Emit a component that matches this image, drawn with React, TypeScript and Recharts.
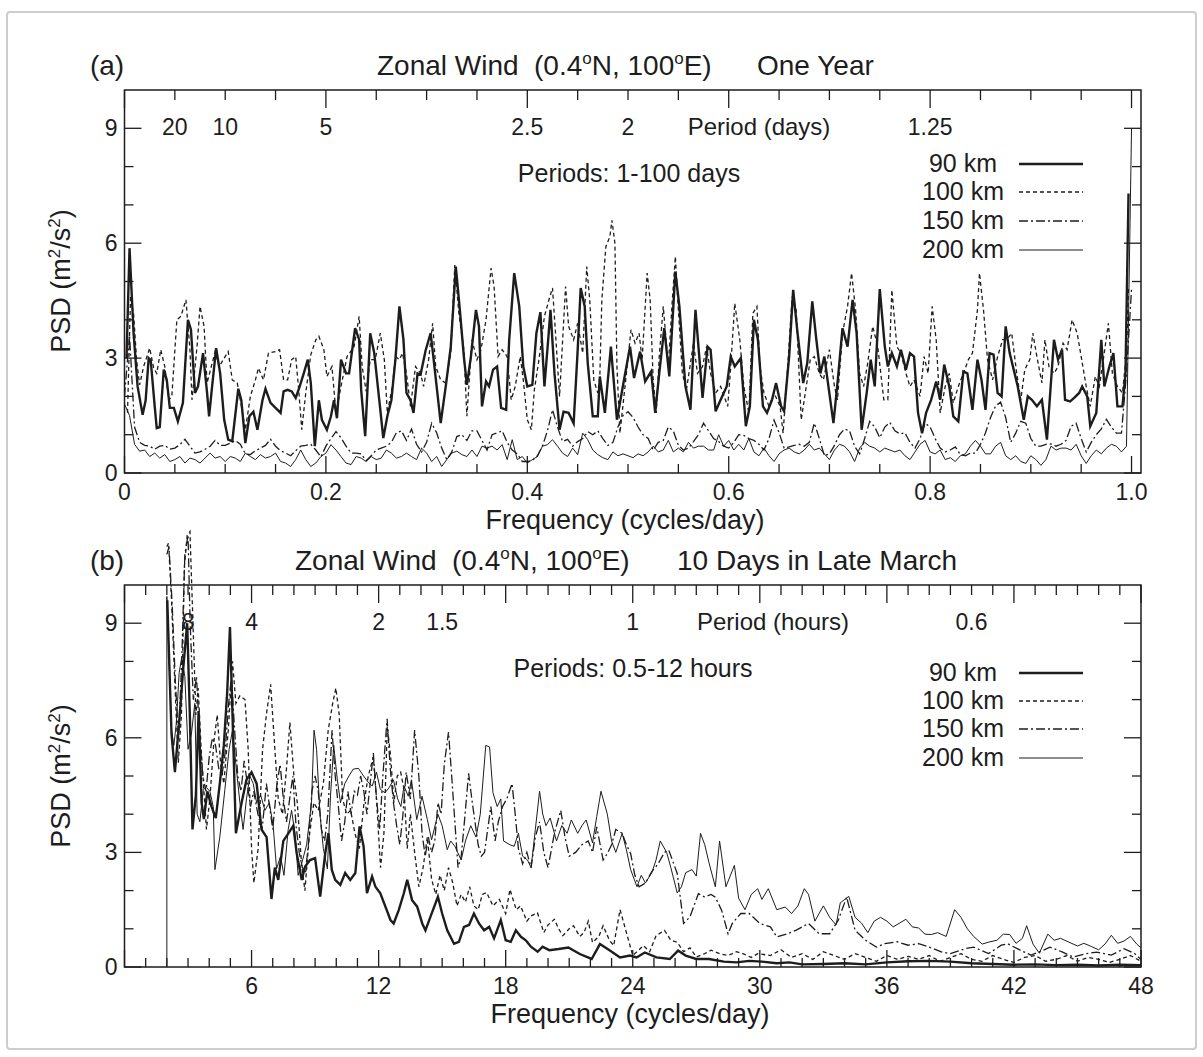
import React from 'react';
import { LineChart, Line, XAxis, YAxis, ReferenceArea } from 'recharts';

type Pt = [number, number];

const FONT = '"Liberation Sans", Arial, Helvetica, sans-serif';
const INK = '#1d1d1d';
const W = 1203;
const PLOT_L = 124.5;
const PLOT_R = 1141;

const seriesNames = ['90 km', '100 km', '150 km', '200 km'];
const seriesStyle = [
    { width: 2.4, dash: undefined as string | undefined },
    { width: 1.3, dash: '4 3' },
    { width: 1.3, dash: '9 3 2 3' },
    { width: 1, dash: undefined as string | undefined },
];

// ---- (a) one year, frequency in cycles/day ----
const A_STEP = 0.005;
const a90: Pt[] = [
    [0.002, 3.0], [0.005, 5.87], [0.009, 3.65], [0.013, 2.26], [0.018, 1.52], [0.021, 1.9], [0.024, 3.0], [0.026, 2.95], [0.03, 1.74], [0.032, 1.17],
    [0.035, 1.2], [0.039, 2.7], [0.042, 2.43], [0.045, 1.7], [0.049, 1.7], [0.053, 1.35], [0.058, 1.83], [0.063, 4.0], [0.066, 3.74], [0.07, 2.09],
    [0.073, 2.26], [0.078, 3.13], [0.082, 2.09], [0.084, 1.48], [0.087, 2.26], [0.091, 3.26], [0.095, 2.6], [0.099, 1.39], [0.103, 0.87], [0.107, 0.83],
    [0.113, 2.2], [0.116, 1.9], [0.12, 0.78], [0.124, 1.48], [0.128, 1.6], [0.132, 1.13], [0.137, 1.9], [0.14, 2.2], [0.145, 1.83], [0.15, 1.7],
    [0.155, 1.57], [0.158, 2.13], [0.162, 2.17], [0.166, 2.13], [0.17, 1.96], [0.174, 2.26], [0.178, 2.6], [0.182, 2.96], [0.185, 2.35], [0.189, 0.7],
    [0.193, 1.9], [0.196, 1.39], [0.201, 1.13], [0.205, 1.48], [0.208, 1.9], [0.211, 1.43], [0.215, 2.96], [0.22, 2.6], [0.223, 2.6], [0.229, 3.78],
    [0.233, 3.48], [0.235, 2.17], [0.239, 0.96], [0.244, 3.65], [0.248, 3.13], [0.253, 1.9], [0.257, 0.91], [0.261, 1.48], [0.265, 1.9], [0.269, 2.96],
    [0.273, 4.35], [0.277, 3.48], [0.28, 2.09], [0.284, 1.9], [0.287, 1.57], [0.291, 2.6], [0.294, 2.57], [0.299, 3.2], [0.304, 3.65], [0.307, 2.96],
    [0.314, 1.3], [0.319, 2.26], [0.324, 3.3], [0.329, 5.39], [0.333, 4.26], [0.337, 3.04], [0.34, 2.3], [0.344, 3.04], [0.349, 4.26], [0.352, 3.83],
    [0.355, 1.74], [0.359, 2.39], [0.362, 2.26], [0.366, 2.7], [0.37, 2.78], [0.374, 1.7], [0.379, 1.65], [0.382, 3.48], [0.387, 5.22], [0.392, 4.35],
    [0.396, 2.78], [0.4, 2.26], [0.405, 2.3], [0.409, 3.65], [0.413, 4.2], [0.417, 2.26], [0.421, 3.57], [0.423, 4.26], [0.427, 2.6], [0.432, 1.13],
    [0.436, 1.6], [0.441, 1.57], [0.446, 1.3], [0.45, 3.2], [0.453, 4.83], [0.457, 4.35], [0.46, 2.87], [0.465, 1.48], [0.47, 1.48],
    [0.472, 2.52], [0.477, 1.57], [0.483, 3.3], [0.489, 1.39], [0.496, 2.43], [0.502, 3.3], [0.506, 2.48], [0.512, 3.17], [0.517, 2.39], [0.523, 2.65],
    [0.527, 1.57], [0.531, 2.6], [0.536, 3.78], [0.541, 2.52], [0.547, 5.26], [0.551, 4.35], [0.557, 2.26], [0.562, 1.65], [0.567, 4.26], [0.571, 2.96],
    [0.574, 1.96], [0.579, 3.3], [0.582, 3.22], [0.587, 1.61], [0.592, 1.91], [0.598, 2.26], [0.602, 3.04], [0.606, 2.78], [0.612, 3.0], [0.617, 1.22],
    [0.621, 1.74], [0.625, 4.0], [0.629, 3.48], [0.634, 1.74], [0.638, 1.57], [0.643, 1.91], [0.647, 2.35], [0.652, 1.74], [0.655, 1.61], [0.66, 3.04],
    [0.664, 4.78], [0.668, 3.74], [0.674, 2.35], [0.678, 2.87], [0.683, 4.48], [0.687, 3.48], [0.691, 2.6], [0.695, 3.04], [0.699, 2.26], [0.704, 1.3],
    [0.708, 2.35], [0.713, 3.78], [0.718, 3.3], [0.723, 4.52], [0.727, 3.65], [0.732, 1.13], [0.737, 2.09], [0.741, 2.96], [0.745, 2.26], [0.75, 4.8],
    [0.755, 3.3], [0.758, 2.78], [0.762, 3.13], [0.767, 2.78], [0.771, 3.22], [0.776, 2.7], [0.78, 3.13], [0.784, 3.04], [0.788, 1.57], [0.792, 1.04],
    [0.796, 1.57], [0.801, 1.91], [0.806, 2.39], [0.81, 1.91], [0.814, 2.83], [0.819, 2.26], [0.823, 1.48], [0.828, 1.35], [0.833, 2.65], [0.837, 2.6],
    [0.842, 1.65], [0.847, 2.96], [0.851, 2.43], [0.855, 1.65], [0.859, 3.13], [0.863, 3.09], [0.867, 2.09], [0.871, 2.0], [0.875, 3.83], [0.879, 3.13],
    [0.883, 2.7], [0.887, 2.26], [0.893, 1.39], [0.897, 2.0], [0.901, 1.91], [0.906, 1.74], [0.911, 1.91], [0.916, 0.87], [0.919, 2.0], [0.923, 3.48],
    [0.927, 2.96], [0.931, 3.22], [0.934, 1.91], [0.939, 1.87], [0.943, 1.96], [0.948, 2.09], [0.951, 2.26], [0.956, 2.0], [0.959, 1.22], [0.965, 1.57],
    [0.97, 3.48], [0.973, 2.26], [0.978, 2.78], [0.982, 3.13], [0.986, 1.74], [0.991, 1.74], [0.994, 2.6], [0.997, 7.3],
];
const a100: Pt[] = [
    [0.003, 1.57], [0.006, 4.6], [0.009, 4.17], [0.012, 2.96], [0.015, 2.3], [0.019, 2.78], [0.025, 3.26], [0.029, 2.74], [0.032, 2.6], [0.036, 3.22],
    [0.04, 2.78], [0.044, 1.91], [0.047, 2.0], [0.052, 4.0], [0.056, 4.09], [0.061, 4.52], [0.065, 3.22], [0.067, 1.91], [0.072, 3.3], [0.075, 4.35],
    [0.079, 3.83], [0.082, 2.35], [0.09, 3.17], [0.094, 2.78], [0.103, 3.17], [0.107, 2.43], [0.112, 2.35], [0.115, 1.91], [0.12, 1.13], [0.125, 2.0],
    [0.13, 2.43], [0.133, 2.74], [0.138, 2.43], [0.143, 3.13], [0.15, 3.17], [0.154, 3.22], [0.158, 2.43], [0.162, 2.43], [0.166, 2.96], [0.17, 3.04],
    [0.173, 2.17], [0.176, 1.13], [0.18, 2.09], [0.185, 3.09], [0.19, 3.48], [0.193, 3.57], [0.198, 3.22], [0.201, 2.52], [0.206, 2.78], [0.21, 1.57],
    [0.215, 2.26], [0.221, 3.04], [0.228, 3.3], [0.233, 4.09], [0.236, 2.78], [0.24, 2.13], [0.244, 2.96], [0.249, 2.96], [0.254, 3.65], [0.258, 2.96],
    [0.261, 1.57], [0.266, 2.26], [0.269, 3.04], [0.273, 2.96], [0.276, 3.13], [0.28, 2.6], [0.284, 1.74], [0.289, 2.78], [0.294, 2.6], [0.297, 2.26],
    [0.302, 2.96], [0.306, 3.91], [0.309, 2.78], [0.314, 2.43], [0.319, 2.35], [0.324, 3.13], [0.328, 5.43], [0.332, 4.17], [0.337, 3.22], [0.34, 1.48],
    [0.345, 3.48], [0.35, 2.96], [0.354, 3.22], [0.359, 4.0], [0.364, 5.35], [0.367, 4.87], [0.371, 3.04], [0.375, 3.22], [0.38, 3.04], [0.384, 1.91],
    [0.388, 2.26], [0.393, 3.04], [0.396, 2.43], [0.4, 1.39], [0.404, 1.13], [0.407, 2.17], [0.412, 3.04], [0.417, 4.09], [0.422, 4.57], [0.425, 4.83],
    [0.428, 3.65], [0.432, 2.0], [0.438, 4.87], [0.441, 3.83], [0.446, 3.48], [0.45, 3.91], [0.455, 3.13], [0.459, 5.39], [0.462, 4.52], [0.466, 2.43],
    [0.47, 2.09], [0.472, 2.52], [0.474, 4.52], [0.478, 5.91], [0.482, 6.17], [0.484, 6.6], [0.487, 6.0], [0.489, 2.78], [0.492, 1.04], [0.497, 2.26],
    [0.503, 3.74], [0.507, 3.39], [0.511, 3.65], [0.514, 2.96], [0.519, 5.22], [0.522, 4.52], [0.525, 2.43], [0.528, 1.57], [0.531, 3.04], [0.535, 4.35],
    [0.54, 2.78], [0.544, 4.52], [0.547, 5.65], [0.55, 4.26], [0.554, 2.6], [0.558, 2.17], [0.565, 3.39], [0.569, 2.6], [0.574, 2.78], [0.578, 3.3],
    [0.582, 2.6], [0.587, 2.09], [0.592, 2.26], [0.599, 1.74], [0.602, 2.78], [0.606, 4.43], [0.611, 3.48], [0.615, 2.26], [0.62, 1.57], [0.624, 4.17],
    [0.628, 4.35], [0.631, 2.78], [0.635, 2.09], [0.64, 1.74], [0.645, 2.09], [0.651, 1.74], [0.654, 1.04], [0.659, 2.96], [0.663, 4.61], [0.667, 4.26],
    [0.672, 1.39], [0.677, 2.26], [0.681, 2.96], [0.685, 3.04], [0.69, 2.6], [0.694, 2.43], [0.7, 3.22], [0.705, 2.26], [0.708, 1.91], [0.713, 3.65],
    [0.718, 4.35], [0.722, 5.22], [0.726, 4.26], [0.73, 2.6], [0.734, 2.26], [0.738, 2.87], [0.743, 3.83], [0.748, 3.3], [0.754, 1.91], [0.758, 1.91],
    [0.762, 4.78], [0.767, 3.3], [0.771, 3.13], [0.776, 2.6], [0.78, 2.26], [0.784, 2.43], [0.79, 2.0], [0.794, 3.04], [0.798, 2.6], [0.802, 4.35],
    [0.806, 3.48], [0.81, 1.57], [0.815, 2.26], [0.819, 2.6], [0.823, 1.83], [0.828, 2.26], [0.833, 2.6], [0.838, 2.96], [0.842, 3.13], [0.847, 4.26],
    [0.849, 5.22], [0.853, 4.26], [0.857, 2.96], [0.862, 2.43], [0.867, 3.04], [0.872, 3.48], [0.876, 3.48], [0.881, 3.65], [0.886, 2.6], [0.89, 1.91],
    [0.894, 2.7], [0.899, 2.96], [0.902, 3.65], [0.906, 3.04], [0.911, 2.35], [0.914, 3.48], [0.918, 2.78], [0.923, 2.6], [0.927, 2.78], [0.932, 3.39],
    [0.936, 3.22], [0.941, 4.0], [0.946, 3.65], [0.95, 3.04], [0.955, 2.26], [0.959, 1.74], [0.964, 2.52], [0.968, 2.26], [0.972, 2.96], [0.977, 3.91],
    [0.981, 2.6], [0.986, 2.26], [0.991, 2.09], [0.995, 3.13], [0.997, 4.87],
];
// 150 km and 200 km read on a 0.005 cycles/day grid
const a150: number[] = [
    2.0, 3.6, 1.2, 0.8, 0.72, 0.7, 0.62, 0.7, 0.72, 0.62,
    0.65, 0.74, 0.88, 0.7, 0.52, 0.55, 0.62, 0.7, 0.85, 0.72,
    0.72, 0.78, 0.85, 0.75, 0.5, 0.48, 0.58, 0.65, 0.72, 0.88,
    0.7, 0.58, 0.52, 0.45, 0.58, 0.7, 0.72, 0.75, 0.6, 0.42,
    0.7, 0.9, 1.08, 0.92, 0.7, 0.52, 0.52, 0.5, 0.32, 0.45,
    0.6, 0.65, 0.7, 0.8, 1.05, 1.1, 0.85, 1.15, 0.75, 0.55,
    0.8, 1.3, 1.05, 0.65, 0.35, 0.55, 0.95, 1.0, 0.85, 1.1,
    1.1, 0.85, 0.6, 1.0, 1.05, 1.1, 0.8, 0.6, 0.5, 0.3,
    0.3, 0.33, 0.45, 0.7, 1.1, 1.65, 1.2, 0.82, 0.88, 0.7,
    0.82, 0.9, 1.08, 1.0, 1.1, 0.9, 0.72, 0.8, 1.2, 1.5,
    1.6, 1.45, 1.2, 1.0, 0.9, 0.6, 0.8, 0.85, 1.2, 1.1,
    0.72, 0.6, 0.65, 0.82, 1.0, 1.3, 1.1, 0.9, 0.82, 0.7,
    0.65, 0.8, 1.0, 0.98, 0.9, 0.85, 0.75, 0.6, 0.9, 1.38,
    1.05, 0.65, 0.68, 0.72, 0.75, 0.7, 0.8, 1.3, 0.9, 0.45,
    0.5, 0.72, 1.0, 1.15, 1.1, 0.7, 0.5, 0.9, 1.35, 1.2,
    0.92, 1.2, 1.32, 1.1, 1.02, 1.05, 0.8, 0.65, 0.9, 1.3,
    1.2, 0.9, 0.65, 0.55, 0.6, 0.68, 0.48, 0.45, 0.52, 0.52,
    0.75, 1.05, 1.45, 1.75, 1.85, 1.45, 0.8, 1.04, 1.35, 1.3,
    0.9, 0.7, 0.7, 0.75, 0.76, 0.7, 0.75, 0.85, 1.22, 1.3,
    0.9, 0.55, 0.8, 1.0, 1.15, 1.4, 1.2, 1.04, 1.04, 2.6,
    4.8,
];
const a200: number[] = [
    1.8, 1.5, 0.75, 0.57, 0.6, 0.43, 0.52, 0.39, 0.48, 0.3,
    0.35, 0.43, 0.26, 0.39, 0.35, 0.26, 0.39, 0.52, 0.39, 0.43,
    0.3, 0.43, 0.39, 0.3, 0.52, 0.43, 0.35, 0.48, 0.39, 0.43,
    0.52, 0.3, 0.26, 0.17, 0.35, 0.6, 0.35, 0.17, 0.26, 0.43,
    0.52, 0.74, 0.6, 0.43, 0.26, 0.22, 0.43, 0.39, 0.3, 0.43,
    0.35, 0.39, 0.6, 0.52, 0.39, 0.43, 0.52, 0.43, 0.35, 0.65,
    0.52, 0.3, 0.43, 0.17, 0.35, 0.52, 0.57, 0.48, 0.43, 0.6,
    0.43, 0.7, 0.65, 0.7, 0.6, 0.74, 0.35, 0.87, 0.35, 0.43,
    0.26, 0.35, 0.43, 0.7, 0.74, 0.87, 0.7, 0.52, 0.43, 0.65,
    0.48, 1.04, 0.87, 0.6, 0.48, 0.4, 0.35, 0.55, 0.45, 0.5,
    0.45, 0.4, 0.5, 0.45, 0.55, 0.7, 0.55, 0.6, 0.85, 0.55,
    0.65, 0.55, 0.8, 0.65, 0.7, 0.7, 0.6, 0.6, 1.0, 0.7,
    0.85, 0.6, 0.75, 0.6, 0.9, 0.55, 0.45, 0.65, 0.45, 0.3,
    0.5, 0.6, 0.65, 0.55, 0.5, 0.6, 0.75, 0.6, 0.65, 0.5,
    0.35, 0.6, 0.75, 0.7, 0.55, 0.3, 0.65, 0.8, 0.7, 0.65,
    0.55, 0.65, 0.6, 0.55, 0.6, 0.45, 0.35, 0.55, 0.75, 0.85,
    0.55, 0.5, 0.6, 0.35, 0.4, 0.3, 0.45, 0.5, 0.7, 0.85,
    0.7, 0.5, 0.5, 0.7, 0.8, 0.45, 0.35, 0.45, 0.3, 0.25,
    0.45, 0.35, 0.2, 0.35, 0.7, 0.6, 0.65, 0.65, 0.6, 0.75,
    0.45, 0.25, 0.45, 0.6, 0.5, 0.65, 0.75, 0.7, 0.55, 0.7,
    9.0,
];
const aMajor = [0, 0.2, 0.4, 0.6, 0.8, 1.0];
const aPeriodLabels: Record<string, string> = { '0.05': '20', '0.1': '10', '0.2': '5', '0.4': '2.5', '0.5': '2', '0.8': '1.25' };

// ---- (b) 10 days in late March, frequency in cycles/day ----
const b90: Pt[] = [
    [2.02, 9.6], [2.22, 6.1], [2.38, 5.1], [2.58, 6.4], [2.77, 7.8], [2.96, 9.0], [3.09, 6.5], [3.21, 3.6], [3.37, 4.5], [3.5, 6.7],
    [3.64, 4.3], [3.75, 3.87], [3.91, 4.6], [4.11, 4.2], [4.31, 3.9], [4.5, 4.8], [4.69, 5.8], [4.85, 7.2], [4.98, 8.9], [5.1, 6.6],
    [5.26, 3.5], [5.53, 4.3], [5.76, 4.9], [6.0, 5.1], [6.24, 4.8], [6.47, 3.6], [6.71, 3.4], [6.94, 1.78], [7.1, 2.6], [7.26, 2.28],
    [7.5, 3.3], [7.74, 3.5], [7.97, 3.7], [8.13, 2.98], [8.37, 2.28], [8.53, 2.63], [8.76, 2.8], [9.0, 2.85], [9.24, 1.84], [9.48, 2.98],
    [9.63, 3.5], [9.79, 2.54], [9.95, 2.28], [10.19, 2.15], [10.42, 2.46], [10.66, 2.28], [10.9, 2.46], [11.1, 3.68], [11.29, 3.16], [11.45, 1.93],
    [11.69, 2.37], [11.85, 2.1], [12.08, 1.93], [12.32, 1.58], [12.56, 1.23], [12.71, 1.14], [12.95, 1.49], [13.19, 1.93], [13.35, 2.28], [13.58, 1.75],
    [13.82, 1.58], [14.06, 1.14], [14.21, 0.96], [14.45, 1.32], [14.8, 1.84], [15.0, 1.4], [15.24, 0.96], [15.56, 0.61], [15.79, 0.66], [16.03, 1.05],
    [16.27, 1.1], [16.5, 1.4], [16.74, 1.14], [16.98, 0.96], [17.22, 1.05], [17.45, 0.75], [17.77, 1.23], [18.0, 0.7], [18.24, 0.66], [18.48, 0.96],
    [18.72, 0.79], [18.95, 0.7], [19.19, 0.53], [19.51, 0.4], [19.74, 0.53], [20.06, 0.44], [20.5, 0.47], [20.96, 0.51], [21.5, 0.34], [22.06, 0.21],
    [22.45, 0.6], [22.92, 0.43], [23.4, 0.25], [23.87, 0.3], [24.18, 0.25], [24.57, 0.38], [25.12, 0.25], [25.75, 0.21], [26.14, 0.43], [26.5, 0.3],
    [27.0, 0.21], [27.6, 0.21], [28.3, 0.14], [28.9, 0.12], [29.5, 0.16], [30.1, 0.14], [30.8, 0.1], [31.4, 0.12], [32.0, 0.07], [33, 0.08],
    [34, 0.1], [35, 0.07], [36, 0.12], [37, 0.15], [38, 0.16], [39, 0.14], [40, 0.1], [41, 0.08], [42, 0.06], [43, 0.07],
    [44, 0.05], [45, 0.06], [46, 0.04], [47, 0.06], [48, 0.05],
];
const b100: Pt[] = [
    [2.0, 11.0], [2.08, 11.1], [2.22, 9.6], [2.38, 7.4], [2.54, 5.35], [2.69, 6.6], [2.83, 10.5], [2.96, 11.3], [3.09, 11.4], [3.24, 8.9],
    [3.37, 6.6], [3.48, 7.3], [3.62, 5.7], [3.75, 4.6], [3.87, 3.6], [4.03, 4.4], [4.22, 5.9], [4.38, 6.6], [4.54, 5.3], [4.69, 4.8],
    [4.9, 6.2], [5.1, 8.0], [5.26, 6.9], [5.45, 7.1], [5.69, 7.0], [5.84, 5.7], [6.0, 3.1], [6.11, 2.2], [6.31, 3.1], [6.52, 5.7],
    [6.71, 6.65], [6.9, 7.4], [7.1, 5.7], [7.26, 4.4], [7.46, 4.0], [7.65, 5.2], [7.81, 6.4], [8.0, 5.0], [8.16, 4.3], [8.36, 2.7],
    [8.52, 2.0], [8.72, 3.4], [8.94, 4.3], [9.15, 4.1], [9.39, 4.8], [9.62, 6.2], [9.83, 6.9], [9.98, 7.3], [10.14, 6.6], [10.3, 4.4],
    [10.49, 4.0], [10.68, 4.1], [10.88, 3.5], [11.09, 3.1], [11.31, 4.3], [11.51, 5.0], [11.75, 5.5], [11.91, 4.3], [12.09, 2.6], [12.25, 3.5],
    [12.41, 6.3], [12.57, 5.5], [12.72, 4.3], [12.88, 5.0], [13.04, 5.1], [13.2, 4.65], [13.35, 3.1], [13.5, 4.0], [13.7, 3.0], [13.9, 2.1],
    [14.1, 2.6], [14.3, 3.4], [14.5, 2.3], [14.7, 1.9], [14.9, 2.4], [15.1, 2.0], [15.3, 2.6], [15.5, 2.2], [15.7, 1.6], [15.9, 1.9],
    [16.1, 1.7], [16.3, 2.1], [16.5, 1.6], [16.7, 1.5], [16.9, 1.9], [17.1, 1.95], [17.4, 1.6], [17.7, 1.77], [18.0, 1.4], [18.2, 2.03],
    [18.5, 1.5], [18.7, 1.6], [19.0, 1.2], [19.2, 1.34], [19.5, 1.42], [19.8, 0.9], [20.0, 1.1], [20.3, 1.25], [20.5, 1.0], [20.7, 0.82],
    [21.0, 1.0], [21.2, 1.08], [21.5, 0.8], [21.7, 0.9], [21.9, 1.2], [22.1, 0.64], [22.4, 0.8], [22.6, 1.08], [22.9, 0.7], [23.1, 0.56],
    [23.4, 1.5], [23.7, 0.9], [24.0, 0.3], [24.3, 0.45], [24.5, 0.56], [24.8, 0.4], [25.1, 0.82], [25.5, 0.96], [25.8, 0.7], [26.1, 0.65],
    [26.4, 0.4], [26.7, 0.5], [27.0, 0.26], [27.4, 0.35], [27.7, 0.44], [28.1, 0.35], [28.5, 0.3], [28.9, 0.4], [29.2, 0.35], [29.6, 0.25],
    [29.9, 0.35], [30.5, 0.3], [31.0, 0.45], [31.5, 0.25], [32.0, 0.35], [32.5, 0.2], [33.0, 0.4], [33.5, 0.3], [34.0, 0.2], [34.5, 0.35],
    [35.0, 0.25], [35.5, 0.15], [36.0, 0.3], [36.5, 0.2], [37.0, 0.28], [37.5, 0.2], [38.0, 0.3], [38.5, 0.15], [39.0, 0.25], [39.5, 0.35],
    [40.0, 0.2], [40.5, 0.15], [41.0, 0.3], [41.5, 0.2], [42.0, 0.12], [42.5, 0.25], [43.0, 0.3], [43.5, 0.15], [44.0, 0.2], [44.5, 0.3],
    [45.0, 0.15], [45.5, 0.25], [46.0, 0.2], [46.5, 0.12], [47.0, 0.2], [47.5, 0.3], [48.0, 0.15],
];
const b150: Pt[] = [
    [2.0, 10.8], [2.1, 11.0], [2.25, 9.5], [2.4, 7.5], [2.55, 6.0], [2.7, 8.0], [2.85, 10.8], [3.0, 11.3], [3.1, 9.0], [3.25, 7.0],
    [3.4, 7.6], [3.55, 6.0], [3.7, 5.0], [3.85, 4.6], [4.0, 5.5], [4.15, 6.0], [4.3, 5.8], [4.45, 5.2], [4.6, 5.0], [4.75, 5.6],
    [4.9, 6.8], [5.05, 7.6], [5.2, 6.2], [5.35, 5.0], [5.5, 4.6], [5.65, 5.4], [5.8, 4.8], [5.95, 4.2], [6.1, 4.6], [6.3, 4.0],
    [6.5, 3.6], [6.7, 4.8], [6.85, 4.2], [7.0, 3.6], [7.2, 4.8], [7.35, 5.3], [7.5, 4.4], [7.65, 3.8], [7.8, 4.4], [7.95, 5.0],
    [8.1, 3.7], [8.25, 3.0], [8.4, 2.6], [8.55, 2.5], [8.7, 3.3], [8.85, 4.6], [9.0, 5.0], [9.15, 4.6], [9.3, 3.6], [9.45, 3.3],
    [9.6, 4.0], [9.8, 6.2], [9.95, 5.0], [10.1, 4.2], [10.25, 3.3], [10.4, 3.8], [10.55, 4.6], [10.7, 4.0], [10.85, 4.6], [11.0, 4.5],
    [11.15, 5.0], [11.3, 4.6], [11.45, 4.0], [11.6, 4.8], [11.75, 5.6], [11.9, 4.4], [12.05, 3.6], [12.2, 5.0], [12.4, 6.5], [12.55, 5.2],
    [12.7, 4.3], [12.85, 3.7], [13.0, 3.2], [13.15, 4.0], [13.3, 5.1], [13.5, 4.4], [13.7, 6.2], [13.9, 5.0], [14.05, 3.5], [14.2, 2.9],
    [14.35, 3.4], [14.5, 3.0], [14.65, 3.3], [14.8, 4.3], [14.95, 4.0], [15.1, 5.3], [15.3, 6.15], [15.45, 5.0], [15.6, 3.8], [15.75, 2.6],
    [15.9, 2.9], [16.05, 3.8], [16.25, 5.07], [16.4, 4.4], [16.55, 3.8], [16.7, 3.2], [16.85, 2.9], [17.0, 3.0], [17.15, 3.6], [17.3, 4.2],
    [17.5, 3.3], [17.65, 3.8], [17.85, 4.2], [18.05, 4.4], [18.3, 4.8], [18.45, 4.0], [18.6, 3.1], [18.8, 2.7], [19.0, 3.0], [19.2, 2.6],
    [19.4, 3.4], [19.6, 3.8], [19.8, 3.0], [20.0, 2.6], [20.3, 3.5], [20.6, 4.1], [20.8, 3.4], [21.0, 2.9], [21.3, 3.0], [21.6, 3.2],
    [21.9, 3.3], [22.1, 3.0], [22.3, 3.67], [22.6, 2.8], [22.8, 2.97], [23.0, 3.2], [23.2, 3.6], [23.5, 3.5], [23.7, 3.2], [23.9, 2.97],
    [24.1, 2.4], [24.3, 2.1], [24.6, 2.2], [24.9, 2.5], [25.2, 2.7], [25.5, 3.0], [25.7, 3.06], [26.1, 2.45], [26.4, 1.14], [26.7, 1.31],
    [27.1, 1.92], [27.4, 1.83], [27.7, 1.9], [27.9, 1.83], [28.2, 1.48], [28.5, 0.87], [28.7, 1.14], [29.1, 1.4], [29.5, 1.4], [30.0, 1.14],
    [30.5, 1.05], [30.8, 0.79], [31.3, 0.87], [31.7, 0.96], [32.3, 1.14], [32.8, 0.87], [33.3, 0.87], [33.7, 1.22], [34.1, 1.83], [34.5, 0.96],
    [35.0, 0.7], [35.5, 0.52], [35.9, 0.61], [36.5, 0.66], [37.0, 0.57], [37.5, 0.61], [38.0, 0.52], [38.6, 0.39], [39.0, 0.35], [39.7, 0.48],
    [40.1, 0.52], [40.8, 0.35], [41.4, 0.57], [41.7, 0.61], [42.3, 0.44], [42.8, 0.31], [43.4, 0.44], [43.7, 0.52], [44.3, 0.39], [44.8, 0.26],
    [45.4, 0.35], [45.9, 0.39], [46.6, 0.31], [47.2, 0.48], [47.7, 0.35], [48.0, 0.2],
];
const b200: Pt[] = [
    [2.0, 0], [2.0, 9.7], [2.1, 8.1], [2.22, 6.2], [2.33, 5.8], [2.45, 6.4], [2.58, 7.7], [2.7, 8.1], [2.85, 7.6], [3.0, 5.7],
    [3.16, 6.1], [3.32, 6.9], [3.43, 4.0], [3.56, 3.8], [3.72, 4.65], [3.87, 4.7], [4.03, 4.6], [4.19, 4.2], [4.27, 2.55], [4.5, 3.4],
    [4.74, 4.65], [4.94, 5.7], [5.1, 6.2], [5.26, 5.3], [5.45, 4.3], [5.6, 3.6], [5.76, 4.4], [5.92, 5.0], [6.08, 4.8], [6.24, 4.3],
    [6.43, 4.5], [6.63, 4.1], [6.84, 4.3], [7.02, 3.7], [7.18, 2.57], [7.37, 2.9], [7.53, 2.4], [7.73, 3.6], [7.89, 4.1], [8.05, 3.5],
    [8.2, 2.4], [8.41, 2.8], [8.6, 3.2], [8.83, 4.3], [8.95, 6.2], [9.07, 5.7], [9.23, 4.0], [9.39, 3.1], [9.58, 2.57], [9.73, 4.5],
    [9.88, 5.8], [10.05, 4.9], [10.2, 4.3], [10.4, 4.8], [10.6, 5.0], [10.8, 5.18], [11.05, 5.2], [11.29, 5.0], [11.53, 4.82], [11.7, 4.74],
    [11.9, 5.1], [12.08, 4.65], [12.3, 4.56], [12.5, 4.7], [12.7, 4.9], [12.9, 4.4], [13.05, 4.2], [13.2, 4.74], [13.4, 4.47], [13.55, 4.9],
    [13.8, 3.86], [14.05, 4.47], [14.3, 3.86], [14.5, 3.33], [14.8, 4.0], [15.0, 3.7], [15.24, 3.07], [15.4, 3.3], [15.6, 3.16], [15.9, 2.8],
    [16.1, 3.3], [16.35, 3.7], [16.6, 3.4], [16.8, 4.0], [17.06, 5.8], [17.24, 5.76], [17.4, 4.56], [17.6, 4.2], [17.77, 4.4], [17.9, 3.3],
    [18.2, 3.2], [18.4, 3.16], [18.6, 3.5], [18.8, 2.9], [19.03, 2.8], [19.2, 2.6], [19.4, 3.6], [19.6, 4.6], [19.75, 4.0], [19.9, 3.7],
    [20.1, 3.9], [20.4, 3.3], [20.65, 3.7], [20.9, 3.5], [21.1, 3.85], [21.4, 3.5], [21.6, 3.7], [21.8, 3.85], [22.1, 3.25], [22.3, 3.94],
    [22.5, 4.6], [22.8, 4.0], [23.0, 3.3], [23.2, 3.0], [23.5, 3.5], [23.7, 3.07], [23.9, 2.55], [24.2, 2.1], [24.4, 2.4], [24.6, 2.2],
    [24.9, 2.47], [25.1, 2.8], [25.3, 3.3], [25.6, 3.0], [25.8, 2.6], [26.1, 1.94], [26.3, 2.1], [26.5, 2.47], [26.8, 2.55], [27.0, 2.38],
    [27.2, 3.5], [27.4, 3.2], [27.6, 2.73], [27.9, 2.1], [28.1, 3.3], [28.4, 2.1], [28.8, 2.66], [29.0, 1.8], [29.3, 1.5], [29.6, 1.9],
    [29.9, 2.05], [30.1, 1.77], [30.4, 2.05], [30.8, 1.5], [31.2, 1.57], [31.5, 1.4], [31.8, 1.6], [32.1, 2.05], [32.3, 1.9], [32.6, 1.2],
    [33.0, 1.6], [33.3, 1.3], [33.6, 1.1], [33.8, 1.68], [34.2, 1.85], [34.5, 1.3], [34.8, 1.15], [35.1, 0.9], [35.4, 1.2], [35.7, 1.3],
    [36.0, 1.2], [36.3, 1.05], [36.6, 1.15], [36.9, 1.25], [37.2, 1.05], [37.5, 1.02], [37.8, 0.86], [38.1, 0.85], [38.4, 0.9], [38.8, 0.8],
    [39.2, 1.5], [39.5, 1.3], [39.8, 1.0], [40.1, 0.8], [40.5, 0.6], [40.8, 0.65], [41.2, 0.7], [41.5, 0.86], [41.8, 0.85], [42.1, 0.62],
    [42.4, 0.75], [42.6, 1.08], [42.9, 0.6], [43.2, 0.36], [43.6, 0.86], [43.9, 0.7], [44.2, 0.75], [44.6, 0.65], [45.0, 0.55], [45.3, 0.62],
    [45.6, 0.55], [46.0, 0.45], [46.3, 0.6], [46.6, 0.83], [46.9, 0.62], [47.2, 0.68], [47.5, 0.8], [47.8, 0.6], [48.0, 0.5],
];
const bPeriodLabels: Record<string, string> = { '3': '8', '6': '4', '12': '2', '15': '1.5', '24': '1', '40': '0.6' };

const yTicks = [0, 1, 2, 3, 4, 5, 6, 7, 8, 9];

const fromPairs = (arr: Pt[]) => arr.map(([f, v]) => ({ f, v }));
const fromGrid = (vals: number[]) => vals.map((v, i) => ({ f: +(i * A_STEP).toFixed(3), v }));

const txt = { fontFamily: FONT, fill: INK } as const;

interface PanelProps {
    top: number;
    boxTop: number;
    boxBottom: number;
    yMax: number;
    xMax: number;
    xTicks: number[];
    isMajor: (v: number) => boolean;
    bottomLabel: (v: number) => string | null;
    topLabels: Record<string, string>;
    series: { f: number; v: number }[][];
}

function Panel({ top, boxTop, boxBottom, yMax, xMax, xTicks, isMajor, bottomLabel, topLabels, series }: PanelProps) {
    const bottomPad = 67;
    const height = boxBottom - top + bottomPad;
    const unit = (boxBottom - boxTop) / 10;
    const plotTop = boxBottom - yMax * unit;
    const topShift = boxTop - plotTop;

    const bottomTick = ({ x, y, payload }: any) => {
        const v = payload.value;
        const label = bottomLabel(v);
        return (
            <g>
                <line x1={x} x2={x} y1={y} y2={y - (isMajor(v) ? 17 : 9)} stroke={INK} strokeWidth={1.3} />
                {label && <text x={x} y={y + 27} textAnchor="middle" fontSize={23} {...txt}>{label}</text>}
            </g>
        );
    };
    const topTick = ({ x, y, payload }: any) => {
        const v = payload.value;
        const yy = y + topShift;
        const label = topLabels[String(v)];
        return (
            <g>
                <line x1={x} x2={x} y1={yy} y2={yy + (isMajor(v) ? 18 : 10)} stroke={INK} strokeWidth={1.3} />
                {label && <text x={x} y={yy + 45} textAnchor="middle" fontSize={23} {...txt}>{label}</text>}
            </g>
        );
    };
    const leftTick = ({ x, y, payload }: any) => {
        const v = payload.value;
        const major = v % 3 === 0;
        return (
            <g>
                <line x1={x} x2={x + (major ? 17 : 9)} y1={y} y2={y} stroke={INK} strokeWidth={1.3} />
                {major && <text x={x - 7} y={y + 8} textAnchor="end" fontSize={23} {...txt}>{v}</text>}
            </g>
        );
    };
    const rightTick = ({ x, y, payload }: any) => {
        const major = payload.value % 3 === 0;
        return <line x1={x - (major ? 17 : 9)} x2={x} y1={y} y2={y} stroke={INK} strokeWidth={1.3} />;
    };

    const order = [3, 2, 1, 0];
    return (
        <div style={{ position: 'absolute', left: 0, top, width: W, height }}>
            <LineChart
                width={W}
                height={height}
                margin={{ top: plotTop - top - 30, bottom: bottomPad - 40, left: PLOT_L - 40, right: W - PLOT_R - 20 }}
            >
                <XAxis dataKey="f" type="number" domain={[0, xMax]} allowDataOverflow ticks={xTicks} interval={0}
                    height={40} axisLine={false} tickLine={false} tickSize={0} tickMargin={0} tick={bottomTick} />
                <XAxis xAxisId="top" orientation="top" dataKey="f" type="number" domain={[0, xMax]} allowDataOverflow
                    ticks={xTicks} interval={0} height={30} axisLine={false} tickLine={false} tickSize={0} tickMargin={0} tick={topTick} />
                <YAxis type="number" domain={[0, yMax]} allowDataOverflow ticks={yTicks} interval={0} width={40}
                    axisLine={false} tickLine={false} tickSize={0} tickMargin={0} tick={leftTick} />
                <YAxis yAxisId="right" orientation="right" type="number" domain={[0, yMax]} allowDataOverflow ticks={yTicks}
                    interval={0} width={20} axisLine={false} tickLine={false} tickSize={0} tickMargin={0} tick={rightTick} />
                <ReferenceArea x1={0} x2={xMax} y1={0} y2={10} fill="none" stroke={INK} strokeWidth={1.5} />
                {order.map((i) => (
                    <Line
                        key={seriesNames[i]}
                        data={series[i]}
                        dataKey="v"
                        name={seriesNames[i]}
                        type="linear"
                        dot={false}
                        stroke={INK}
                        strokeWidth={seriesStyle[i].width}
                        strokeDasharray={seriesStyle[i].dash}
                        isAnimationActive={false}
                    />
                ))}
            </LineChart>
        </div>
    );
}

const Title = ({ y, tag, tail, x0, x1, x2 }: { y: number; tag: string; tail: string; x0: number; x1: number; x2: number }) => (
    <g fontSize={28} {...txt}>
        <text x={107} y={y + 10} textAnchor="middle">{tag}</text>
        <text x={x0} y={y + 10}>Zonal Wind</text>
        <text x={x1} y={y + 10}>
            (0.4<tspan dy={-11} fontSize={17}>o</tspan><tspan dy={11}>N, 100</tspan>
            <tspan dy={-11} fontSize={17}>o</tspan><tspan dy={11}>E)</tspan>
        </text>
        <text x={x2} y={y + 10}>{tail}</text>
    </g>
);

const PsdLabel = ({ cy }: { cy: number }) => (
    <text transform={`translate(70, ${cy}) rotate(-90)`} textAnchor="middle" fontSize={27} {...txt}>
        PSD (m<tspan dy={-10} fontSize={17}>2</tspan><tspan dy={10}>/s</tspan><tspan dy={-10} fontSize={17}>2</tspan><tspan dy={10}>)</tspan>
    </text>
);

const LegendBlock = ({ ys }: { ys: number[] }) => (
    <g>
        {ys.map((y, i) => (
            <g key={i}>
                <text x={963} y={y + 9} textAnchor="middle" fontSize={25} {...txt}>{seriesNames[i]}</text>
                <line x1={1019} x2={1083} y1={y + 1} y2={y + 1} stroke={INK} strokeWidth={seriesStyle[i].width} strokeDasharray={seriesStyle[i].dash} />
            </g>
        ))}
    </g>
);

export default function App() {
    const aTicks = Array.from({ length: 21 }, (_, i) => Math.round(i * 5) / 100);
    const bTicks = Array.from({ length: 49 }, (_, i) => i);
    const aSeries = [fromPairs(a90), fromPairs(a100), fromGrid(a150), fromGrid(a200)];
    const bSeries = [fromPairs(b90), fromPairs(b100), fromPairs(b150), fromPairs(b200)];

    return (
        <div style={{ position: 'absolute', left: 0, top: 0, width: W, height: 1057, background: '#fff', overflow: 'hidden', fontFamily: FONT }}>
            <div style={{ position: 'absolute', left: 6, top: 11, width: 1191, height: 1039, border: '2px solid #cdcdcd', borderRadius: 4, boxSizing: 'border-box' }} />
            <Panel
                top={0}
                boxTop={90}
                boxBottom={473}
                yMax={10}
                xMax={1.0094}
                xTicks={aTicks}
                isMajor={(v) => aMajor.some((m) => Math.abs(m - v) < 1e-6)}
                bottomLabel={(v) => (aMajor.some((m) => Math.abs(m - v) < 1e-6) ? (v === 0 ? '0' : v.toFixed(1)) : null)}
                topLabels={aPeriodLabels}
                series={aSeries}
            />
            <Panel
                top={470}
                boxTop={585}
                boxBottom={967}
                yMax={11.7}
                xMax={48}
                xTicks={bTicks}
                isMajor={(v) => v % 6 === 0}
                bottomLabel={(v) => (v > 0 && v % 6 === 0 ? String(v) : null)}
                topLabels={bPeriodLabels}
                series={bSeries}
            />
            <svg width={W} height={1057} style={{ position: 'absolute', left: 0, top: 0, pointerEvents: 'none' }}>
                <Title y={65} tag="(a)" tail="One Year" x0={377} x1={534} x2={757} />
                <Title y={560} tag="(b)" tail="10 Days in Late March" x0={295} x1={452} x2={677} />
                <PsdLabel cy={281} />
                <PsdLabel cy={776} />
                <text x={625} y={529} textAnchor="middle" fontSize={27} {...txt}>Frequency (cycles/day)</text>
                <text x={630} y={1023} textAnchor="middle" fontSize={27} {...txt}>Frequency (cycles/day)</text>
                <text x={759} y={135} textAnchor="middle" fontSize={24} {...txt}>Period (days)</text>
                <text x={773} y={630} textAnchor="middle" fontSize={24} {...txt}>Period (hours)</text>
                <text x={629} y={182} textAnchor="middle" fontSize={25} {...txt}>Periods: 1-100 days</text>
                <text x={633} y={677} textAnchor="middle" fontSize={25} {...txt}>Periods: 0.5-12 hours</text>
                <LegendBlock ys={[163, 191, 220, 249]} />
                <LegendBlock ys={[672, 700, 728, 757]} />
            </svg>
        </div>
    );
}
